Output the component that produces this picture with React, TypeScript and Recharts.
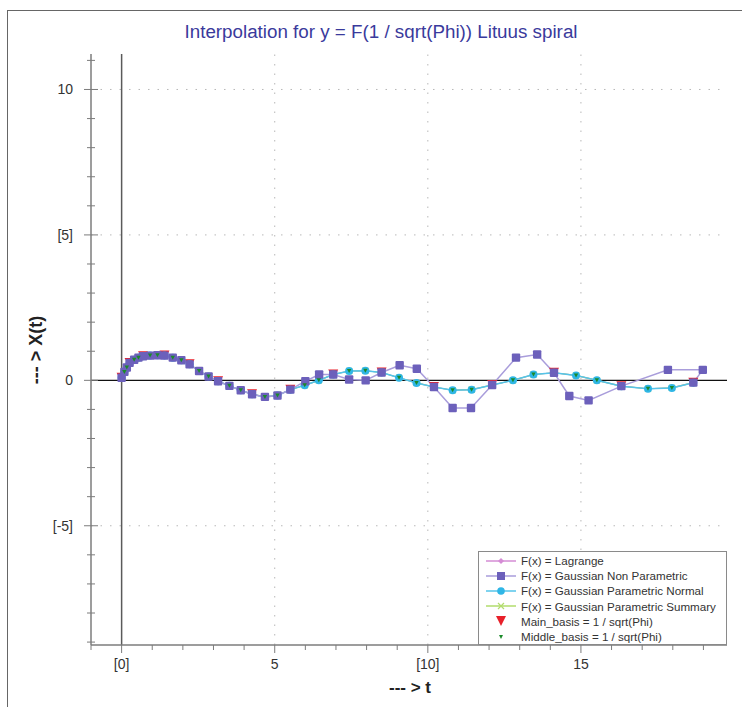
import React from 'react';
import { ComposedChart, Line, XAxis, YAxis, ReferenceLine } from 'recharts';

// main basis points of the spiral curve
const basisT = [0, 0.26, 0.7, 1.4, 2.22, 3.15, 4.26, 5.51, 6.91, 8.49, 10.2, 12.1, 14.12, 16.32, 18.67];
const basisX = [0.09, 0.6, 0.83, 0.85, 0.55, -0.03, -0.48, -0.32, 0.2, 0.27, -0.23, -0.16, 0.26, -0.2, -0.08];

// middle basis points (two between each pair of main points)
const middleT = [0.09, 0.17, 0.41, 0.55, 0.93, 1.17, 1.67, 1.95, 2.53, 2.84, 3.52, 3.89, 4.68, 5.09, 5.98, 6.44, 7.43, 7.96, 9.06, 9.63, 10.81, 11.43, 12.78, 13.45, 14.84, 15.52, 17.19, 17.97];
const middleX = [0.29, 0.44, 0.71, 0.78, 0.85, 0.86, 0.78, 0.69, 0.32, 0.13, -0.19, -0.34, -0.57, -0.52, -0.17, 0.0, 0.32, 0.33, 0.09, -0.09, -0.34, -0.32, 0.0, 0.2, 0.17, 0.0, -0.29, -0.26];

// gaussian non parametric result (t is interpolated too, so order is kept as computed)
const nonParT = [0, 0.09, 0.17, 0.26, 0.41, 0.55, 0.7, 0.93, 1.17, 1.4, 1.67, 1.95, 2.22, 2.53, 2.84, 3.15, 3.52, 3.89, 4.26, 4.68, 5.09, 5.51, 6.0, 6.45, 6.91, 7.43, 7.97, 8.49, 9.08, 9.64, 10.2, 10.81, 11.41, 12.1, 12.88, 13.57, 14.12, 14.62, 15.25, 16.32, 17.84, 18.98, 18.67];
const nonParX = [0.09, 0.29, 0.44, 0.6, 0.71, 0.78, 0.83, 0.85, 0.86, 0.85, 0.78, 0.69, 0.55, 0.32, 0.13, -0.03, -0.19, -0.34, -0.48, -0.57, -0.52, -0.32, -0.03, 0.2, 0.2, 0.03, 0.0, 0.27, 0.52, 0.4, -0.23, -0.95, -0.95, -0.16, 0.78, 0.89, 0.26, -0.54, -0.69, -0.2, 0.36, 0.36, -0.08];

const xTicks = [-1, 0, 1, 2, 3, 4, 5, 6, 7, 8, 9, 10, 11, 12, 13, 14, 15, 16, 17, 18, 19];
const yTicks = [-9, -8, -7, -6, -5, -4, -3, -2, -1, 0, 1, 2, 3, 4, 5, 6, 7, 8, 9, 10, 11];
const xMajor = [0, 5, 10, 15];
const xMajorLabels = ['[0]', '5', '[10]', '15'];
const yMajor = [-5, 0, 5, 10];
const yMajorLabels = ['[-5]', '0', '[5]', '10'];
const gridX = [5, 10, 15];
const gridY = [-5, 5, 10];

const toPoints = (ts: number[], vs: number[]) => ts.map((t, i) => ({ t, v: vs[i] }));

const basisData = toPoints(basisT, basisX);
const middleData = toPoints(middleT, middleX);
const normalData = [...basisData, ...middleData].sort((a, b) => a.t - b.t);
const nonParData = toPoints(nonParT, nonParX);

const C = {
  lagrange: '#d58cd5',
  nonParLine: '#a99ddb',
  nonParDot: '#6c60bb',
  normalLine: '#55c4ea',
  normalDot: '#2fb6e6',
  summary: '#b2dc6c',
  main: '#e8202a',
  middle: '#1b8a2a',
  axis: '#7c7c7c',
  text: '#333333',
};

const FONT = '"Liberation Sans", Arial, sans-serif';

const BottomTick = (props: any) => {
  const { x, y, payload } = props;
  const i = xMajor.indexOf(payload.value);
  const major = i >= 0;
  return (
    <g>
      <line x1={x} x2={x} y1={y} y2={y + (major ? 8 : 5)} stroke={C.axis} />
      {major && (
        <text x={x} y={y + 24} textAnchor="middle" fontSize={14} fontFamily={FONT} fill={C.text}>
          {xMajorLabels[i]}
        </text>
      )}
    </g>
  );
};

const LeftTick = (props: any) => {
  const { x, y, payload } = props;
  const i = yMajor.indexOf(payload.value);
  const major = i >= 0;
  return (
    <g>
      <line x1={x - (major ? 7 : 4)} x2={x + (major ? 7 : 4)} y1={y} y2={y} stroke={C.axis} />
      {major && (
        <text x={x - 18} y={y + 5} textAnchor="end" fontSize={14} fontFamily={FONT} fill={C.text}>
          {yMajorLabels[i]}
        </text>
      )}
    </g>
  );
};

const TopTick = (props: any) => {
  const { x, y, payload } = props;
  const major = xMajor.includes(payload.value);
  return <line x1={x} x2={x} y1={y} y2={y + (major ? 5 : 3)} stroke={C.axis} />;
};

const RightTick = (props: any) => {
  const { x, y, payload } = props;
  const major = yMajor.includes(payload.value);
  return <line x1={x - (major ? 5 : 3)} x2={x} y1={y} y2={y} stroke={C.axis} />;
};

const squareDot = (p: any) => (
  <rect key={`sq-${p.index}`} x={p.cx - 4.2} y={p.cy - 4.2} width={8.4} height={8.4} rx={1} fill={C.nonParDot} />
);
const circleDot = (p: any) => <circle key={`ci-${p.index}`} cx={p.cx} cy={p.cy} r={4} fill={C.normalDot} />;
const smallDiamond = (p: any) => (
  <polygon key={`di-${p.index}`} points={`${p.cx},${p.cy - 3} ${p.cx + 3},${p.cy} ${p.cx},${p.cy + 3} ${p.cx - 3},${p.cy}`} fill={C.lagrange} />
);
const crossDot = (p: any) => (
  <path key={`cr-${p.index}`} d={`M${p.cx - 3},${p.cy - 3}L${p.cx + 3},${p.cy + 3}M${p.cx + 3},${p.cy - 3}L${p.cx - 3},${p.cy + 3}`} stroke={C.summary} strokeWidth={1.2} />
);
const mainTriangle = (p: any) => (
  <polygon key={`mt-${p.index}`} points={`${p.cx - 5},${p.cy - 5} ${p.cx + 5},${p.cy - 5} ${p.cx},${p.cy + 4}`} fill={C.main} />
);
const middleTriangle = (p: any) => (
  <polygon key={`md-${p.index}`} points={`${p.cx - 2.2},${p.cy - 2} ${p.cx + 2.2},${p.cy - 2} ${p.cx},${p.cy + 2}`} fill={C.middle} />
);

const legendItems = [
  { name: 'F(x) = Lagrange', line: C.lagrange, marker: 'diamond', color: C.lagrange },
  { name: 'F(x) = Gaussian Non Parametric', line: C.nonParLine, marker: 'square', color: C.nonParDot },
  { name: 'F(x) = Gaussian Parametric Normal', line: C.normalLine, marker: 'circle', color: C.normalDot },
  { name: 'F(x) = Gaussian Parametric Summary', line: C.summary, marker: 'cross', color: C.summary },
  { name: 'Main_basis = 1 / sqrt(Phi)', line: '', marker: 'bigTri', color: C.main },
  { name: 'Middle_basis = 1 / sqrt(Phi)', line: '', marker: 'smallTri', color: C.middle },
];

const LegendSymbol = ({ item }: { item: (typeof legendItems)[number] }) => (
  <svg width={34} height={12} style={{ flex: 'none' }}>
    {item.line && <line x1={2} x2={32} y1={6} y2={6} stroke={item.line} strokeWidth={1.5} />}
    {item.marker === 'diamond' && <polygon points="17,3 20,6 17,9 14,6" fill={item.color} />}
    {item.marker === 'square' && <rect x={13} y={2} width={8} height={8} fill={item.color} />}
    {item.marker === 'circle' && <circle cx={17} cy={6} r={3.8} fill={item.color} />}
    {item.marker === 'cross' && <path d="M14,3L20,9M20,3L14,9" stroke={item.color} strokeWidth={1.2} />}
    {item.marker === 'bigTri' && <polygon points="12,1 22,1 17,11" fill={item.color} />}
    {item.marker === 'smallTri' && <polygon points="15,4 19,4 17,8" fill={item.color} />}
  </svg>
);

export default function App() {
  return (
    <div style={{ position: 'absolute', left: 0, top: 0, width: 742, height: 707, background: '#fff', overflow: 'hidden', fontFamily: FONT }}>
      <div style={{ position: 'absolute', left: 7, top: 10, width: 760, height: 720, border: '1px solid #666' }} />
      <div style={{ position: 'absolute', left: 381, top: 21, transform: 'translateX(-50%)', whiteSpace: 'nowrap', fontSize: 18.8, color: '#3a3a9c' }}>
        Interpolation for y = F(1 / sqrt(Phi)) Lituus spiral
      </div>
      <ComposedChart width={742} height={707} margin={{ top: 54, right: 15, bottom: 22, left: 31 }} style={{ position: 'absolute', left: 0, top: 0 }}>
        <XAxis
          xAxisId="b"
          dataKey="t"
          type="number"
          domain={[-1, 19.77]}
          allowDataOverflow
          ticks={xTicks}
          interval={0}
          height={40}
          tickSize={0}
          tickMargin={0}
          tickLine={false}
          axisLine={{ stroke: C.axis, strokeWidth: 1.5 }}
          tick={<BottomTick />}
        />
        <XAxis
          xAxisId="top"
          orientation="top"
          dataKey="t"
          type="number"
          domain={[-1, 19.77]}
          allowDataOverflow
          ticks={xTicks}
          interval={0}
          height={0}
          tickSize={0}
          tickMargin={0}
          tickLine={false}
          axisLine={{ stroke: C.axis, strokeWidth: 1.5 }}
          tick={<TopTick />}
        />
        <YAxis
          yAxisId="l"
          type="number"
          domain={[-9.1, 11.22]}
          allowDataOverflow
          ticks={yTicks}
          interval={0}
          width={60}
          tickSize={0}
          tickMargin={0}
          tickLine={false}
          axisLine={{ stroke: C.axis, strokeWidth: 1.5 }}
          tick={<LeftTick />}
        />
        <YAxis
          yAxisId="r"
          orientation="right"
          type="number"
          domain={[-9.1, 11.22]}
          allowDataOverflow
          ticks={yTicks}
          interval={0}
          width={0}
          tickSize={0}
          tickMargin={0}
          tickLine={false}
          axisLine={{ stroke: C.axis, strokeWidth: 1.5 }}
          tick={<RightTick />}
        />

        {gridX.map((g) => (
          <ReferenceLine key={`gx-${g}`} xAxisId="b" yAxisId="l" x={g} stroke="#b8b8b8" strokeDasharray="1.5 8" />
        ))}
        {gridY.map((g) => (
          <ReferenceLine key={`gy-${g}`} xAxisId="b" yAxisId="l" y={g} stroke="#b8b8b8" strokeDasharray="1.5 8" />
        ))}
        <ReferenceLine xAxisId="b" yAxisId="l" x={0} stroke="#5a5a5a" strokeWidth={1.5} />
        <ReferenceLine xAxisId="b" yAxisId="l" y={0} stroke="#111" strokeWidth={1.2} />

        <Line xAxisId="b" yAxisId="l" data={normalData} dataKey="v" stroke={C.lagrange} strokeWidth={1.2} dot={smallDiamond} isAnimationActive={false} />
        <Line xAxisId="b" yAxisId="l" data={normalData} dataKey="v" stroke={C.summary} strokeWidth={1.2} dot={crossDot} isAnimationActive={false} />
        <Line xAxisId="b" yAxisId="l" data={basisData} dataKey="v" stroke="none" dot={mainTriangle} isAnimationActive={false} />
        <Line xAxisId="b" yAxisId="l" data={normalData} dataKey="v" stroke={C.normalLine} strokeWidth={1.5} dot={circleDot} isAnimationActive={false} />
        <Line xAxisId="b" yAxisId="l" data={nonParData} dataKey="v" stroke={C.nonParLine} strokeWidth={1.5} dot={squareDot} isAnimationActive={false} />
        <Line xAxisId="b" yAxisId="l" data={middleData} dataKey="v" stroke="none" dot={middleTriangle} isAnimationActive={false} />
      </ComposedChart>

      <div style={{ position: 'absolute', left: 36, top: 350, transform: 'translate(-50%, -50%) rotate(-90deg)', whiteSpace: 'nowrap', fontSize: 18, fontWeight: 'bold', color: '#222' }}>
        --- &gt; X(t)
      </div>
      <div style={{ position: 'absolute', left: 410, top: 678, transform: 'translateX(-50%)', whiteSpace: 'nowrap', fontSize: 17, fontWeight: 'bold', color: '#222' }}>
        --- &gt; t
      </div>

      <div style={{ position: 'absolute', left: 478, top: 551, width: 249, height: 94, background: '#fff', border: '1px solid #8a8a8a', paddingTop: 1, boxSizing: 'border-box' }}>
        {legendItems.map((item) => (
          <div key={item.name} style={{ display: 'flex', alignItems: 'center', height: 15.2, paddingLeft: 5 }}>
            <LegendSymbol item={item} />
            <span style={{ marginLeft: 3, fontSize: 11.6, color: '#333', whiteSpace: 'nowrap' }}>{item.name}</span>
          </div>
        ))}
      </div>
    </div>
  );
}
